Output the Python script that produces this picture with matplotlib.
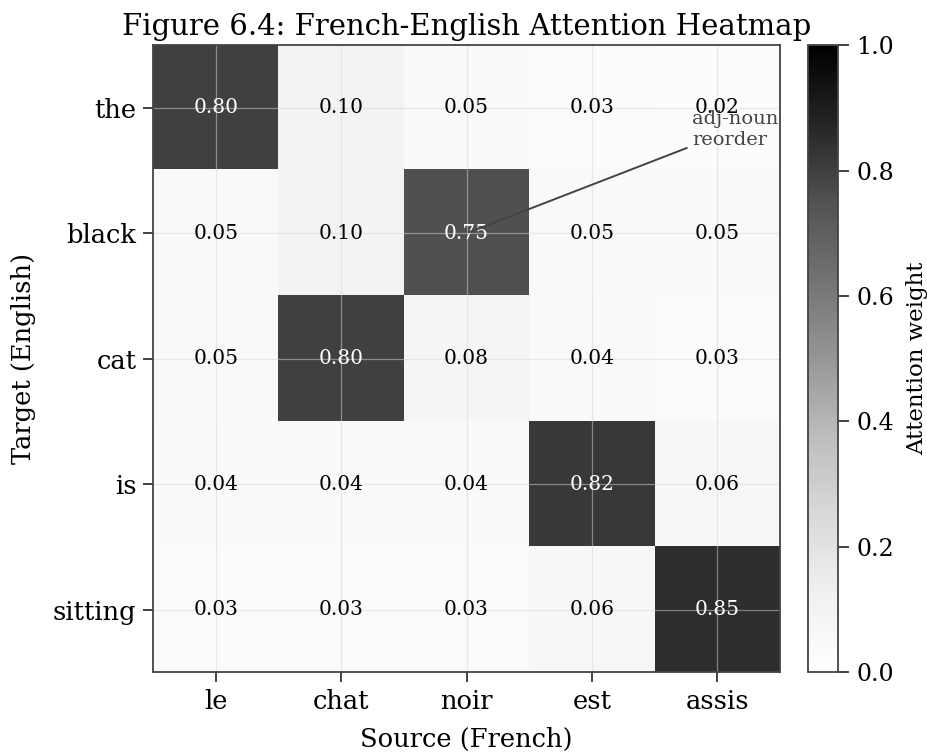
import matplotlib
matplotlib.use('Agg')
import matplotlib.pyplot as plt
import numpy as np

plt.rcParams['font.family'] = 'DejaVu Serif'

source_words = ['le', 'chat', 'noir', 'est', 'assis']
target_words = ['the', 'black', 'cat', 'is', 'sitting']

# attention weights, one row per target word
row_the = [0.80, 0.10, 0.05, 0.03, 0.02]
row_black = [0.05, 0.10, 0.75, 0.05, 0.05]
row_cat = [0.05, 0.80, 0.08, 0.04, 0.03]
row_is = [0.04, 0.04, 0.04, 0.82, 0.06]
row_sitting = [0.03, 0.03, 0.03, 0.06, 0.85]


def main():
    weights = np.array([row_the, row_black, row_cat, row_is, row_sitting])

    fig = plt.figure(figsize=(9.28, 7.52), dpi=100)
    ax = fig.add_axes([0.165, 0.106, 0.6755, 0.834])
    cax = fig.add_axes([0.8707, 0.106, 0.0323, 0.834])

    im = ax.imshow(weights, cmap='Greys', vmin=0, vmax=1, aspect='auto')

    ax.set_xticks(range(len(source_words)))
    ax.set_xticklabels(source_words, fontsize=18.5)
    ax.set_yticks(range(len(target_words)))
    ax.set_yticklabels(target_words, fontsize=18.5)
    ax.tick_params(length=7, width=1.3, color='#333333', pad=5)
    ax.grid(True, color='#d6d6d6', alpha=0.5, linewidth=0.9)
    for spine in ax.spines.values():
        spine.set_color('#444444')
        spine.set_linewidth(1.3)

    for i in range(weights.shape[0]):
        for j in range(weights.shape[1]):
            val = weights[i, j]
            color = 'white' if val > 0.5 else 'black'
            ax.text(j, i, f'{val:.2f}', ha='center', va='center',
                    fontsize=14.5, color=color)

    ax.annotate('adj-noun\nreorder', xy=(2, 1), xytext=(3.8, 0.17),
                ha='left', va='center', fontsize=14, color='#444444',
                arrowprops=dict(arrowstyle='-', color='#444444', lw=1.4))

    ax.set_xlabel('Source (French)', fontsize=18.5, labelpad=9)
    ax.set_ylabel('Target (English)', fontsize=18.5, labelpad=12)
    ax.set_title('Figure 6.4: French-English Attention Heatmap', fontsize=21,
                 pad=7)

    cbar = fig.colorbar(im, cax=cax)
    cbar.set_label('Attention weight', fontsize=16.5, labelpad=9)
    cbar.ax.tick_params(labelsize=17, length=8, width=1.3, color='#333333',
                        pad=5)
    cbar.outline.set_edgecolor('#444444')
    cbar.outline.set_linewidth(1.3)

    fig.savefig('out.png', dpi=100)
    plt.close(fig)


if __name__ == '__main__':
    main()
